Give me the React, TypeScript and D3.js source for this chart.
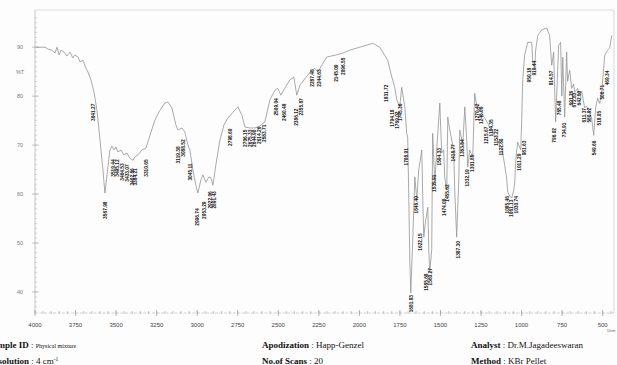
import * as d3 from 'd3';

// spectrum (cm-1, %T)
const wavenumbers = [
  3994, 3938, 3920, 3895, 3877, 3864, 3852, 3840, 3821, 3803, 3784, 3766, 3754, 3735, 3723, 3704, 3686, 3673, 3655, 3636,
  3618, 3599, 3581, 3569, 3556, 3538, 3526, 3513, 3501, 3489, 3470, 3452, 3433, 3415, 3396, 3384, 3365, 3341, 3316, 3291,
  3261, 3230, 3199, 3180, 3156, 3131, 3119, 3094, 3076, 3057, 3045, 3026, 3008, 2996, 2977, 2965, 2946, 2928, 2915, 2903,
  2885, 2860, 2835, 2811, 2780, 2749, 2724, 2706, 2675, 2644, 2614, 2583, 2552, 2521, 2503, 2484, 2460, 2429, 2404, 2386,
  2367, 2342, 2318, 2293, 2275, 2256, 2232, 2201, 2145, 2102, 2059, 1997, 1917, 1874, 1825, 1800, 1782, 1769, 1751, 1739,
  1720, 1708, 1702, 1695, 1689, 1683, 1671, 1658, 1646, 1634, 1615, 1609, 1603, 1591, 1578, 1572, 1566, 1554, 1548, 1535,
  1523, 1504, 1498, 1492, 1480, 1474, 1461, 1455, 1443, 1430, 1418, 1412, 1400, 1387, 1381, 1369, 1363, 1350, 1338, 1332,
  1320, 1307, 1301, 1289, 1277, 1270, 1258, 1246, 1227, 1209, 1196, 1184, 1166, 1153, 1135, 1122, 1104, 1092, 1085, 1073,
  1061, 1048, 1042, 1036, 1024, 1005, 999, 993, 981, 962, 937, 931, 919, 913, 900, 876, 845, 827, 814, 802,
  790, 771, 759, 752, 746, 734, 722, 716, 703, 691, 679, 672, 654, 642, 629, 611, 599, 580, 568, 555,
  543, 531, 518, 506, 487, 469, 457, 444,
];
const transmittance = [
  90.0, 90.0, 89.6, 89.4, 88.8, 90.0, 88.4, 89.4, 89.0, 88.2, 89.0, 87.8, 88.4, 88.0, 87.0, 87.3, 85.7, 84.9, 83.3, 80.8,
  77.1, 71.0, 64.9, 60.2, 63.9, 69.0, 69.8, 69.0, 69.6, 68.6, 69.0, 68.0, 68.4, 67.3, 66.9, 67.6, 68.0, 69.0, 69.4, 72.0,
  75.1, 77.1, 78.6, 78.8, 77.6, 74.1, 73.1, 73.5, 72.7, 70.0, 69.0, 64.9, 61.8, 60.2, 62.9, 63.9, 62.4, 63.5, 63.3, 61.8,
  65.9, 71.0, 74.1, 75.5, 76.7, 77.8, 76.1, 73.7, 73.5, 73.5, 73.9, 74.7, 79.2, 81.2, 81.6, 80.2, 81.6, 83.3, 83.9, 80.2,
  82.2, 83.3, 84.3, 85.3, 85.7, 84.9, 86.3, 88.0, 88.4, 88.8, 89.4, 90.0, 90.8, 90.0, 87.3, 83.9, 81.8, 79.2, 77.8, 81.8,
  77.8, 72.4, 71.6, 58.8, 46.5, 39.8, 50.6, 63.5, 58.8, 64.9, 69.0, 58.8, 51.2, 54.7, 57.3, 48.6, 43.9, 48.6, 72.4, 62.2,
  69.0, 78.6, 73.1, 68.4, 69.0, 63.5, 60.8, 75.7, 73.1, 71.0, 69.0, 60.8, 51.2, 62.9, 73.1, 71.0, 69.6, 77.8, 71.0, 65.5,
  69.0, 68.0, 67.6, 80.6, 78.2, 77.1, 77.6, 76.5, 75.5, 74.5, 73.5, 73.1, 72.0, 71.6, 70.0, 69.4, 65.9, 63.3, 60.4, 59.6,
  59.2, 60.8, 62.4, 66.9, 70.6, 69.0, 75.1, 83.3, 88.4, 91.0, 91.0, 86.9, 85.7, 89.4, 92.4, 93.5, 93.9, 92.4, 86.3, 89.0,
  74.7, 90.4, 91.0, 80.0, 88.0, 75.7, 89.0, 83.0, 85.3, 81.6, 82.5, 80.8, 81.6, 80.0, 81.0, 77.6, 78.0, 76.5, 75.5, 72.0,
  77.6, 79.6, 78.5, 80.8, 88.4, 89.4, 89.8, 92.4,
];

// peak annotations: wavenumber and the %T where its label sits
const peakValues = [
  3641.27, 3567.98, 3519.44, 3495.12, 3464.53, 3433.07, 3402.86, 3384.21, 3310.65, 3119.38, 3088.52, 3045.11, 2996.74,
  2953.29, 2922.06, 2891.43, 2798.6, 2706.15, 2675.33, 2644.9, 2614.26, 2583.71, 2509.04, 2460.48, 2386.12, 2355.87,
  2287.4, 2244.63, 2145.09, 2096.55, 1831.72, 1794.18, 1769.02, 1745.36, 1708.91, 1681.83, 1646.4, 1622.15, 1585.68,
  1560.27, 1535.91, 1504.33, 1474.08, 1455.62, 1418.77, 1387.3, 1363.54, 1332.19, 1301.85, 1270.42, 1246.09, 1215.67,
  1184.35, 1153.22, 1122.8, 1085.46, 1061.13, 1030.74, 1011.29, 981.63, 950.18, 919.44, 814.57, 796.02, 765.48, 734.91,
  691.26, 672.83, 642.5, 611.37, 580.92, 549.66, 518.05, 500.71, 469.34,
];
const peakLabelT = [
  76.7, 56.7, 65.3, 65.3, 64.5, 64.3, 63.5, 63.5, 65.3, 68.0, 69.4, 64.5, 55.3,
  56.7, 58.8, 58.8, 71.6, 71.4, 71.4, 71.4, 72.0, 72.4, 77.8, 76.7, 75.7, 77.8,
  83.7, 83.7, 84.7, 86.1, 80.6, 75.5, 75.1, 76.7, 67.6, 37.6, 57.8, 50.2, 42.0,
  43.1, 62.2, 67.6, 57.3, 60.2, 68.4, 48.6, 69.4, 63.3, 66.3, 76.7, 76.1, 72.0,
  73.5, 71.6, 69.6, 57.8, 57.1, 57.8, 66.5, 69.4, 84.3, 85.7, 83.7, 72.0, 77.6, 73.1,
  79.6, 79.2, 79.6, 76.1, 76.1, 69.4, 75.5, 80.8, 83.7,
];

const xTicks = [4000, 3750, 3500, 3250, 3000, 2750, 2500, 2250, 2000, 1750, 1500, 1250, 1000, 750, 500];
const yTicks = [90, 80, 70, 60, 50, 40];

const leftLabels = ['Sample ID', 'Resolution'];
const leftValues = ['Physical mixture', '4 cm'];
const midLabels = ['Apodization', 'No.of Scans'];
const midValues = ['Happ-Genzel', '20'];
const rightLabels = ['Analyst', 'Method'];
const rightValues = ['Dr.M.Jagadeeswaran', 'KBr Pellet'];

const W = 617;
const H = 365;
const plot = { left: 35, right: 614, top: 10, bottom: 313 };

export default function App() {
  const x = d3.scaleLinear().domain([4000, 430]).range([plot.left, plot.right]);
  const y = d3.scaleLinear().domain([35.7, 97.6]).range([plot.bottom, plot.top]);

  const pts = wavenumbers.map((w, i) => [w, transmittance[i]] as [number, number]);
  const line = d3.line<[number, number]>()
    .x(d => x(d[0]))
    .y(d => y(d[1]));

  const minorX = d3.range(4000, 430, -50);
  const minorY = d3.range(37, 97, 1);

  const serif = 'Liberation Serif, serif';
  const sans = 'Liberation Sans, Arial, sans-serif';

  return (
    <svg width={W} height={H} style={{ position: 'absolute', left: 0, top: 0, background: '#fdfdfd' }}>
      {/* frame */}
      <line x1={plot.left} x2={plot.right} y1={plot.top} y2={plot.top} stroke="#d6d6d6" strokeWidth={0.8} />
      <line x1={plot.right} x2={plot.right} y1={plot.top} y2={plot.bottom} stroke="#cfcfcf" strokeWidth={0.8} />

      {/* left axis */}
      <line x1={plot.left} x2={plot.left} y1={plot.top} y2={plot.bottom} stroke="#b5b5b5" strokeWidth={0.8} />
      {minorY.map(v => (
        <line key={'my' + v} x1={plot.left} x2={plot.left + 2} y1={y(v)} y2={y(v)} stroke="#bdbdbd" strokeWidth={0.6} />
      ))}
      {yTicks.map(v => (
        <g key={'y' + v}>
          <line x1={plot.left - 3} x2={plot.left + 4} y1={y(v)} y2={y(v)} stroke="#aaa" strokeWidth={0.7} />
          <text x={20} y={y(v)} dy="0.35em" textAnchor="middle" fontSize={5.5} fontFamily={sans} fill="#777">{v}</text>
        </g>
      ))}
      <text x={20} y={y(85)} dy="0.35em" textAnchor="middle" fontSize={5.5} fontFamily={sans} fill="#777">%T</text>

      {/* bottom axis */}
      <line x1={plot.left} x2={plot.right} y1={plot.bottom} y2={plot.bottom} stroke="#bdbdbd" strokeWidth={0.7} strokeDasharray="3 1.5" />
      {minorX.map(v => (
        <line key={'mx' + v} x1={x(v)} x2={x(v)} y1={plot.bottom - 2} y2={plot.bottom + 1} stroke="#aaa" strokeWidth={0.6} />
      ))}
      {xTicks.map(v => (
        <g key={'x' + v}>
          <line x1={x(v)} x2={x(v)} y1={plot.bottom - 3} y2={plot.bottom + 3} stroke="#999" strokeWidth={0.7} />
          <text x={x(v)} y={plot.bottom + 14} textAnchor="middle" fontSize={6} fontFamily={sans} fill="#444">{v}</text>
        </g>
      ))}
      <text x={611} y={plot.bottom + 19} textAnchor="middle" fontSize={4} fontFamily={sans} fill="#555">1/cm</text>

      {/* spectrum */}
      <path d={line(pts) ?? ''} fill="none" stroke="#949494" strokeWidth={0.8} strokeLinejoin="round" />

      {/* peak labels */}
      {peakValues.map((p, i) => (
        <text
          key={'p' + i}
          transform={`translate(${x(p)},${y(peakLabelT[i])}) rotate(-90)`}
          textAnchor="middle"
          dy="0.35em"
          fontSize={4.8}
          fontWeight="bold"
          fontFamily={sans}
          fill="#222"
        >
          {p.toFixed(2)}
        </text>
      ))}

      {/* info block */}
      {leftLabels.map((l, i) => (
        <text key={'ll' + i} x={-12} y={348 + i * 16} fontSize={9} fontFamily={serif} fill="#111">
          <tspan fontWeight="bold">{l}</tspan>
          <tspan> : </tspan>
          <tspan fontSize={i === 0 ? 6 : 9}>{leftValues[i]}</tspan>
          {i === 1 && <tspan dy={-3} fontSize={5.5}>-1</tspan>}
        </text>
      ))}
      {midLabels.map((l, i) => (
        <text key={'ml' + i} x={262} y={348 + i * 16} fontSize={9} fontFamily={serif} fill="#111">
          <tspan fontWeight="bold">{l}</tspan>
          <tspan> : {midValues[i]}</tspan>
        </text>
      ))}
      {rightLabels.map((l, i) => (
        <text key={'rl' + i} x={471} y={348 + i * 16} fontSize={9} fontFamily={serif} fill="#111">
          <tspan fontWeight="bold">{l}</tspan>
          <tspan> : {rightValues[i]}</tspan>
        </text>
      ))}
    </svg>
  );
}
